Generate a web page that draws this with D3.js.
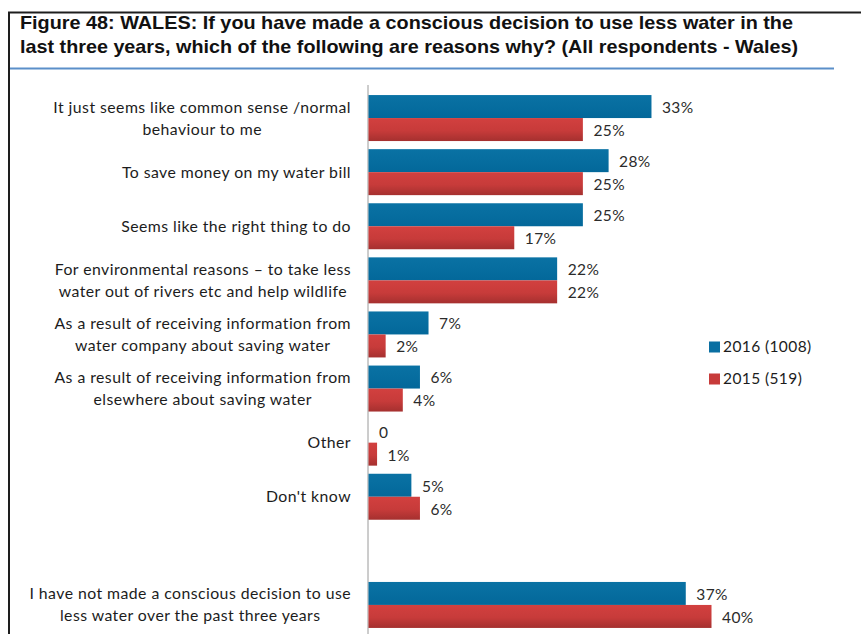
<!DOCTYPE html>
<html>
<head>
<meta charset="utf-8">
<script src="https://cdn.jsdelivr.net/npm/d3@7"></script>
<style>
  html, body { margin: 0; padding: 0; background: #fff; }
  svg { display: block; }
</style>
</head>
<body>
<svg id="chart" width="861" height="634"></svg>
<script>
// Survey answers (blank entry leaves a gap before the last group)
const categories = [
  "It just seems like common sense /normal\nbehaviour to me",
  "To save money on my water bill",
  "Seems like the right thing to do",
  "For environmental reasons \u2013 to take less\nwater out of rivers etc  and help wildlife",
  "As a result of receiving information from\nwater company about saving water",
  "As a result of receiving information from\nelsewhere about saving water",
  "Other",
  "Don't know",
  "",
  "I have not made a conscious decision to use\nless water over the past three years"
];
const values2016 = [33, 28, 25, 22, 7, 6, 0, 5, null, 37];
const values2015 = [25, 25, 17, 22, 2, 4, 1, 6, null, 40];
const valueLabels2016 = ["33%", "28%", "25%", "22%", "7%", "6%", "0", "5%", "", "37%"];
const valueLabels2015 = ["25%", "25%", "17%", "22%", "2%", "4%", "1%", "6%", "", "40%"];
const seriesNames = ["2016 (1008)", "2015 (519)"];
const titleLines = [
  "Figure 48: WALES: If you have made a conscious decision to use less water in the",
  "last three years, which of the following are reasons why? (All respondents - Wales)"
];

const svg = d3.select("#chart");
const keys = categories.map((c, i) => "k" + i);

const defs = svg.append("defs");
const gRed = defs.append("linearGradient").attr("id", "gradRed")
  .attr("x1", 0).attr("y1", 0).attr("x2", 0).attr("y2", 1);
gRed.append("stop").attr("offset", "0%").attr("stop-color", "#d2403f");
gRed.append("stop").attr("offset", "55%").attr("stop-color", "#c73b3a");
gRed.append("stop").attr("offset", "100%").attr("stop-color", "#a5302f");
const gBlue = defs.append("linearGradient").attr("id", "gradBlue")
  .attr("x1", 0).attr("y1", 0).attr("x2", 0).attr("y2", 1);
gBlue.append("stop").attr("offset", "0%").attr("stop-color", "#0a72a4");
gBlue.append("stop").attr("offset", "100%").attr("stop-color", "#03689a");

// Frame and title
svg.append("path")
  .attr("d", "M9,634 V12.5 H861")
  .attr("fill", "none").attr("stroke", "#1e1e1e").attr("stroke-width", 2);

const title = svg.append("g").attr("font-family", "Liberation Sans, Arial, sans-serif")
  .attr("font-weight", "bold").attr("font-size", 19).attr("fill", "#111");
const titleWidths = [773, 778];
titleLines.forEach((t, i) => {
  title.append("text").attr("x", 20).attr("y", 29 + i * 24)
    .attr("textLength", titleWidths[i]).attr("lengthAdjust", "spacingAndGlyphs")
    .text(t);
});
svg.append("line").attr("x1", 10).attr("x2", 834).attr("y1", 68.5).attr("y2", 68.5)
  .attr("stroke", "#5b8fc9").attr("stroke-width", 2);

// Scales
const x = d3.scaleLinear().domain([0, 40]).range([368, 711]);
const y = d3.scaleBand().domain(keys).range([91, 632]).paddingInner(0.15).paddingOuter(0.075);
const bh = y.bandwidth() / 2;

// Category axis line
svg.append("line").attr("x1", x(0)).attr("x2", x(0)).attr("y1", 85).attr("y2", 634)
  .attr("stroke", "#9a9a9a").attr("stroke-width", 1);

const rows = categories.map((c, i) => ({
  key: keys[i], label: c, v16: values2016[i], v15: values2015[i],
  l16: valueLabels2016[i], l15: valueLabels2015[i]
}));

// Bars
const barG = svg.append("g");
const drawable = rows.filter(d => d.v16 !== null);
barG.selectAll("rect.b16").data(drawable).join("rect").attr("class", "b16")
  .attr("x", x(0) + 0.5).attr("y", d => y(d.key))
  .attr("width", d => Math.max(0, x(d.v16) - x(0)))
  .attr("height", bh).attr("fill", "url(#gradBlue)");
barG.selectAll("rect.b15").data(drawable).join("rect").attr("class", "b15")
  .attr("x", x(0) + 0.5).attr("y", d => y(d.key) + bh)
  .attr("width", d => Math.max(0, x(d.v15) - x(0)))
  .attr("height", bh).attr("fill", "url(#gradRed)");

// Value labels
const valFont = "Lato, 'Open Sans', sans-serif";
const valG = svg.append("g").attr("font-family", valFont).attr("font-size", 15.5)
  .attr("letter-spacing", 0.4).attr("fill", "#2b2b2b");
valG.selectAll("text.v16").data(drawable).join("text").attr("class", "v16")
  .attr("x", d => x(d.v16) + 11).attr("y", d => y(d.key) + bh / 2 + 1)
  .attr("dy", "0.35em").text(d => d.l16);
valG.selectAll("text.v15").data(drawable).join("text").attr("class", "v15")
  .attr("x", d => x(d.v15) + 11).attr("y", d => y(d.key) + bh * 1.5 + 1)
  .attr("dy", "0.35em").text(d => d.l15);

// Category labels: block right-aligned to the axis, lines centred within the block
const labG = svg.append("g").attr("font-family", valFont).attr("font-size", 15.8)
  .attr("letter-spacing", 0.45).attr("fill", "#1c1c1c");
const rightEdge = 351;
const lineH = 22;
rows.forEach(d => {
  if (!d.label) return;
  const lines = d.label.split("\n");
  const g = labG.append("g");
  const texts = lines.map((ln, j) => g.append("text")
    .attr("y", y(d.key) + y.bandwidth() / 2 + (j - (lines.length - 1) / 2) * lineH)
    .attr("dy", "0.35em").text(ln));
  const widths = texts.map(t => t.node().getComputedTextLength());
  const maxW = d3.max(widths);
  const cx = rightEdge - maxW / 2;
  texts.forEach(t => t.attr("x", cx).attr("text-anchor", "middle"));
});

// Legend
const legend = svg.append("g").attr("font-family", valFont).attr("font-size", 15.5)
  .attr("letter-spacing", 0.4).attr("fill", "#1c1c1c");
const legendFills = ["#0a6fa2", "#c73b3a"];
seriesNames.forEach((s, i) => {
  const ly = 347 + i * 32;
  legend.append("rect").attr("x", 709).attr("y", ly - 5.5).attr("width", 11).attr("height", 11)
    .attr("fill", legendFills[i]);
  legend.append("text").attr("x", 723).attr("y", ly).attr("dy", "0.35em").text(s);
});
</script>
</body>
</html>
